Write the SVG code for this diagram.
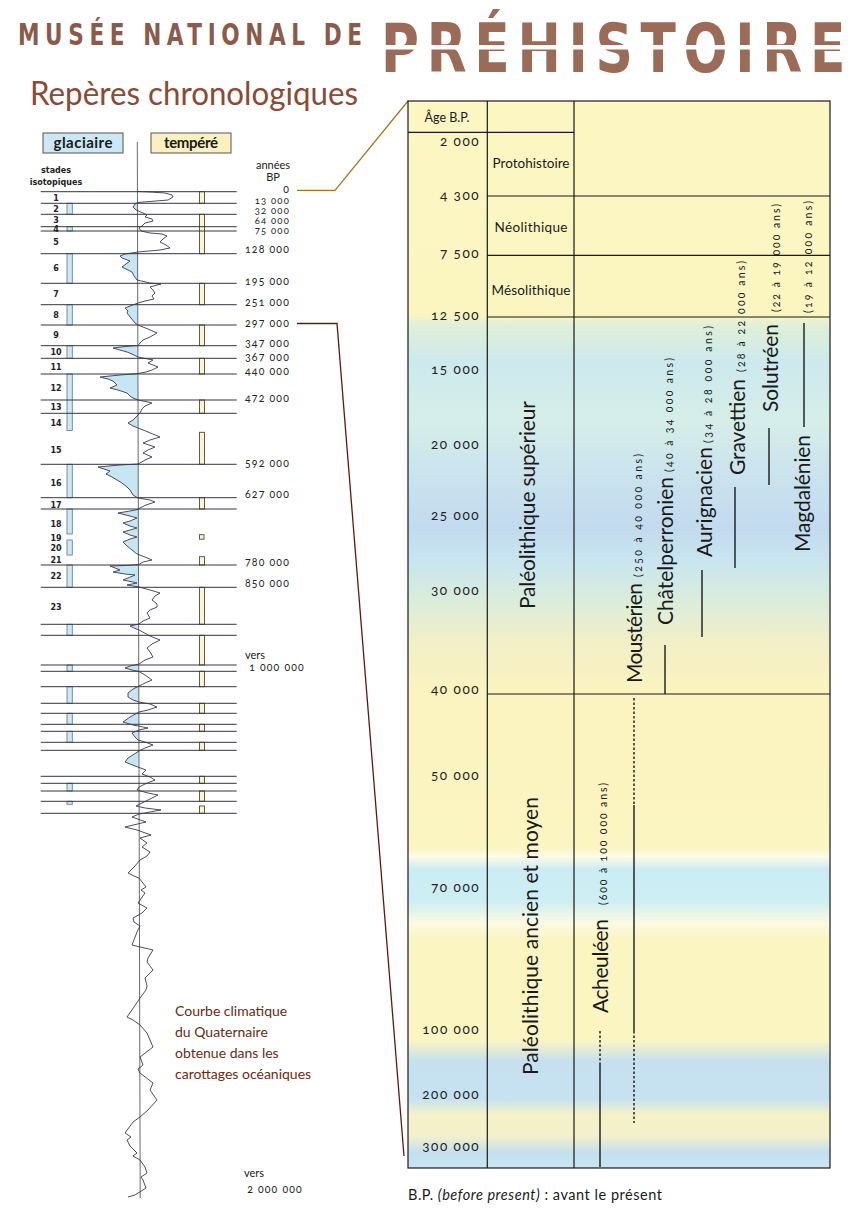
<svg xmlns="http://www.w3.org/2000/svg" width="850" height="1220" viewBox="0 0 850 1220">
<defs>
<style>
.hl{stroke:#35353f;stroke-width:1;fill:none}
.bb{fill:#cfe8f4;stroke:#5d86a0;stroke-width:0.9}
.yb{fill:#fbf4cc;stroke:#4a4a4a;stroke-width:0.9}
.st{font-family:"DejaVu Sans",sans-serif;font-weight:bold;font-size:8px;fill:#222;text-anchor:middle}
.yr{font-family:"Lato","Noto Sans",sans-serif;font-size:10.5px;fill:#222;text-anchor:end;letter-spacing:1.2px;font-variant-numeric:oldstyle-nums}
.yrs{font-size:9.5px}
.age{font-family:"Lato","Noto Sans",sans-serif;font-size:13.5px;fill:#222;text-anchor:end;letter-spacing:1.5px;font-variant-numeric:oldstyle-nums}
.per{font-family:"Lato","Open Sans",sans-serif;font-size:13.5px;fill:#1a1a1a;text-anchor:middle}
.vbig{font-family:"Lato","Open Sans",sans-serif;font-size:21px;fill:#1a1a1a;text-anchor:middle}
.big{font-family:"Lato","Open Sans",sans-serif;font-size:21px;fill:#1a1a1a}
.sm{font-family:"Lato","Noto Sans",sans-serif;font-size:10.5px;fill:#1a1a1a;letter-spacing:1px;font-variant-numeric:oldstyle-nums}
.tl{stroke:#1a1a1a;stroke-width:1.4;fill:none}
.dl{stroke:#1a1a1a;stroke-width:1.4;fill:none;stroke-dasharray:2.5 2}
.grid{stroke:#1a1a1a;stroke-width:1.2;fill:none}
.note{font-family:"Lato","Open Sans",sans-serif;font-size:14px;fill:#6b2a12}
.lbl{font-family:"Lato","Open Sans",sans-serif;font-size:11px;fill:#222}
</style>
<linearGradient id="tbg" gradientUnits="userSpaceOnUse" x1="0" y1="101" x2="0" y2="1168">
<stop offset="0" stop-color="#fcf6c3"/>
<stop offset="0.2" stop-color="#fbf5c0"/>
<stop offset="0.21" stop-color="#dff0d8"/>
<stop offset="0.245" stop-color="#cde9ee"/>
<stop offset="0.30" stop-color="#d6eee8"/>
<stop offset="0.345" stop-color="#cbe4ee"/>
<stop offset="0.40" stop-color="#c2daee"/>
<stop offset="0.43" stop-color="#c8e5f0"/>
<stop offset="0.47" stop-color="#dbedda"/>
<stop offset="0.505" stop-color="#f1efc8"/>
<stop offset="0.55" stop-color="#fbf3c0"/>
<stop offset="0.70" stop-color="#fbf5c2"/>
<stop offset="0.708" stop-color="#fdfbe8"/>
<stop offset="0.72" stop-color="#cbecf4"/>
<stop offset="0.75" stop-color="#cdeef2"/>
<stop offset="0.77" stop-color="#fcfae2"/>
<stop offset="0.785" stop-color="#fbf5c2"/>
<stop offset="0.88" stop-color="#fbf5c2"/>
<stop offset="0.9" stop-color="#c6e0f0"/>
<stop offset="0.935" stop-color="#c6e2f0"/>
<stop offset="0.95" stop-color="#f6f2c8"/>
<stop offset="0.97" stop-color="#f3f1cc"/>
<stop offset="0.985" stop-color="#c4e0f0"/>
<stop offset="1" stop-color="#c9e4f2"/>
</linearGradient>
<clipPath id="cl"><polygon points="0,185 137.4,185 139.2,820 0,820"/></clipPath>
<clipPath id="cr"><polygon points="137.4,185 300,185 300,820 139.2,820"/></clipPath>
</defs>

<rect x="0" y="0" width="850" height="1220" fill="#ffffff"/>

<g id="header">
<text x="18" y="45" font-family="'DejaVu Sans Condensed','DejaVu Sans',sans-serif" font-weight="bold" font-size="30" fill="#8a5a4a" textLength="430" lengthAdjust="spacing" transform="translate(18,0) scale(0.8,1) translate(-18,0)">MUSÉE NATIONAL DE</text>
<text x="381" y="72" font-family="'DejaVu Sans Condensed','DejaVu Sans',sans-serif" font-weight="bold" font-size="67" fill="#9b6b58" textLength="540" lengthAdjust="spacing" transform="translate(381,0) scale(0.86,1) translate(-381,0)">PRÉHISTOIRE</text>
<rect x="378" y="45" width="470" height="4.5" fill="#ffffff"/>
<text x="30" y="105" font-family="Lato,'Open Sans',sans-serif" font-size="32" fill="#8a4a33" textLength="328" lengthAdjust="spacingAndGlyphs">Repères chronologiques</text>
</g>

<g id="legend">
<g id="glaciaire"><rect x="43" y="133" width="80" height="20" fill="#cde8f5" stroke="#555" stroke-width="1"/>
<text x="83" y="148" font-family="Lato,'Open Sans',sans-serif" font-weight="bold" font-size="15" fill="#1a1a1a" text-anchor="middle" textLength="59">glaciaire</text></g>
<g id="tempere"><rect x="151" y="133" width="80" height="20" fill="#fbf0bf" stroke="#555" stroke-width="1"/>
<text x="191" y="148" font-family="Lato,'Open Sans',sans-serif" font-weight="bold" font-size="15" fill="#1a1a1a" text-anchor="middle" textLength="54">tempéré</text></g>
<text x="56" y="173" class="st" font-size="9">stades</text>
<text x="56" y="185" class="st" font-size="9">isotopiques</text>
<text x="273" y="169" class="lbl" text-anchor="middle">années</text>
<text x="273" y="181" class="lbl" text-anchor="middle">BP</text>
</g>

<g id="bars">
<rect class="bb" x="67" y="203.3" width="5.3" height="11"/>
<rect class="bb" x="67" y="226.7" width="5.3" height="4.3"/>
<rect class="bb" x="67" y="253.7" width="5.3" height="29.6"/>
<rect class="bb" x="67" y="304.7" width="5.3" height="20.3"/>
<rect class="bb" x="67" y="345.7" width="5.3" height="12.6"/>
<rect class="bb" x="67" y="374" width="5.3" height="56.5"/>
<rect class="bb" x="67" y="464.3" width="5.3" height="33.4"/>
<rect class="bb" x="67" y="509" width="5.3" height="25"/>
<rect class="bb" x="67" y="540" width="5.3" height="15"/>
<rect class="bb" x="67" y="565" width="5.3" height="22.3"/>
<rect class="bb" x="67" y="624.3" width="5.3" height="11"/>
<rect class="bb" x="67" y="665" width="5.3" height="6.3"/>
<rect class="bb" x="67" y="686.7" width="5.3" height="16.6"/>
<rect class="bb" x="67" y="713.3" width="5.3" height="11"/>
<rect class="bb" x="67" y="731.3" width="5.3" height="11"/>
<rect class="bb" x="67" y="783.3" width="5.3" height="7.7"/>
<rect class="bb" x="67" y="801.3" width="5.3" height="3"/>
<rect class="yb" x="199.5" y="191.7" width="5" height="11.6"/>
<rect class="yb" x="199.5" y="214.3" width="5" height="39.4"/>
<rect class="yb" x="199.5" y="283.3" width="5" height="21.4"/>
<rect class="yb" x="199.5" y="325" width="5" height="20.7"/>
<rect class="yb" x="199.5" y="358.3" width="5" height="15.7"/>
<rect class="yb" x="199.5" y="400" width="5" height="13.3"/>
<rect class="yb" x="199.5" y="432.3" width="5" height="32"/>
<rect class="yb" x="199.5" y="497.7" width="5" height="11.3"/>
<rect class="yb" x="199.5" y="534.7" width="4.5" height="4.5"/>
<rect class="yb" x="199.5" y="556.7" width="5" height="8.3"/>
<rect class="yb" x="199.5" y="587.3" width="5" height="37"/>
<rect class="yb" x="199.5" y="635.3" width="5" height="29.7"/>
<rect class="yb" x="199.5" y="671.3" width="5" height="15.4"/>
<rect class="yb" x="199.5" y="703.3" width="5" height="10"/>
<rect class="yb" x="199.5" y="724.3" width="5" height="7"/>
<rect class="yb" x="199.5" y="742.3" width="5" height="8"/>
<rect class="yb" x="199.5" y="776.3" width="5" height="7"/>
<rect class="yb" x="199.5" y="791" width="5" height="10.3"/>
<rect class="yb" x="199.5" y="806" width="5" height="7.3"/>
</g>

<g id="climate-curve">
<g stroke="none">
<polygon id="curvefill-l" clip-path="url(#cl)" fill="#c6e6f4" points="137.4,191.5 150,192 165,193 172,195 173,197 168,200 150,201.5 138,202.5 135,204 133,207 136,210 143,213 147,215 145,217 152,219 153,221 145,223 142,226 139,228 141,231 150,233 162,234 167,236 163,239 160,242 166,245 170,248 160,250 138,252 125,254 120,256 122,258 130,261 126,264 122,267 128,270 132,272 134,276 137,280 150,283 161,284 157,285 150,287 153,290 155,293 152,296 154,299 145,301 138,303 130,306 125,308 128,311 127,313 131,318 135,323 138,325 148,329 157,333 150,337 143,340 140,343 138,345.5 125,346.5 113,348 120,350 127,352 132,354 138,357 148,359 153,360 148,363 158,367 152,370 146,372 138,373.5 120,375 100,377 108,379 113,381 117,385 110,388 118,390 127,393 130,396 133,398 138,400 148,402 152,403 145,406 142,409 140,413 137,416 133,420 128,423 133,426 138,428 148,432 160,437 150,440 143,443 155,447 148,450 143,453 152,457 145,460 140,463 138,464 120,465 98,467 104,469 110,471 106,474 112,477 117,480 122,483 127,487 130,490 133,495 138,498 150,500 155,502 146,505 140,508 138,509.5 130,511 118,513 130,516 137,518 130,521 123,523 130,526 137,528 130,530 123,532 130,535 137,537 130,539 123,542 127,546 132,550 137,554 145,557 152,560 143,562 139,564.5 125,565.5 110,566 115,568 120,570 113,572 125,574 135,575 128,578 123,580 133,582 137,583 127,585 139,587 150,590 160,593 155,596 152,600 157,604 157,607 150,610 147,613 150,618 143,621 139,624 130,626 134,628 139,630 150,636 160,640 152,644 147,648 150,652 153,657 145,660 139,664 130,666 125,668 132,670 139,671.5 145,675 152,680 145,683 139,686 133,689 128,693 128,697 133,700 139,702 150,704 157,707 148,710 139,712 130,717 123,722 133,725 148,728 139,730 132,733 135,737 138,740 145,742 153,745 145,748 139,751 128,758 125,762 135,766 146,770 142,774 150,777 155,780 145,784 139,787 137,790 148,793 158,795 150,799 142,803 136,806 145,808 161,810 150,812 139.2,814"/>
<use href="#curvefill-l" clip-path="url(#cr)" fill="#fbf1bd"/>
</g>
<line x1="137.3" y1="142" x2="140.2" y2="1198" stroke="#6a6a6a" stroke-width="1"/>
</g>

<g id="stage-lines">
<path class="hl" d="M40.7 191.7H236.7M40.7 203.3H236.7M40.7 214.3H236.7M40.7 226.7H236.7M40.7 231H236.7M40.7 253.7H236.7M40.7 283.3H236.7M40.7 304.7H236.7M40.7 325H236.7M40.7 345.7H236.7M40.7 358.3H236.7M40.7 374H236.7M40.7 400H236.7M40.7 413.3H236.7M40.7 464.3H236.7M40.7 497.7H236.7M40.7 509H236.7M40.7 565H236.7M40.7 587.3H236.7M40.7 624.3H236.7M40.7 635.3H236.7M40.7 665H236.7M40.7 671.3H236.7M40.7 686.7H236.7M40.7 703.3H236.7M40.7 713.3H236.7M40.7 724.3H236.7M40.7 731.3H236.7M40.7 742.3H236.7M40.7 750.3H236.7M40.7 776.3H236.7M40.7 783.3H236.7M40.7 791H236.7M40.7 801.3H236.7M40.7 813.3H236.7"/>
</g>

<g id="curve-line">
<polyline fill="none" stroke="#3a3a48" stroke-width="0.9" stroke-linejoin="round" points="137.4,191.5 150,192 165,193 172,195 173,197 168,200 150,201.5 138,202.5 135,204 133,207 136,210 143,213 147,215 145,217 152,219 153,221 145,223 142,226 139,228 141,231 150,233 162,234 167,236 163,239 160,242 166,245 170,248 160,250 138,252 125,254 120,256 122,258 130,261 126,264 122,267 128,270 132,272 134,276 137,280 150,283 161,284 157,285 150,287 153,290 155,293 152,296 154,299 145,301 138,303 130,306 125,308 128,311 127,313 131,318 135,323 138,325 148,329 157,333 150,337 143,340 140,343 138,345.5 125,346.5 113,348 120,350 127,352 132,354 138,357 148,359 153,360 148,363 158,367 152,370 146,372 138,373.5 120,375 100,377 108,379 113,381 117,385 110,388 118,390 127,393 130,396 133,398 138,400 148,402 152,403 145,406 142,409 140,413 137,416 133,420 128,423 133,426 138,428 148,432 160,437 150,440 143,443 155,447 148,450 143,453 152,457 145,460 140,463 138,464 120,465 98,467 104,469 110,471 106,474 112,477 117,480 122,483 127,487 130,490 133,495 138,498 150,500 155,502 146,505 140,508 138,509.5 130,511 118,513 130,516 137,518 130,521 123,523 130,526 137,528 130,530 123,532 130,535 137,537 130,539 123,542 127,546 132,550 137,554 145,557 152,560 143,562 139,564.5 125,565.5 110,566 115,568 120,570 113,572 125,574 135,575 128,578 123,580 133,582 137,583 127,585 139,587 150,590 160,593 155,596 152,600 157,604 157,607 150,610 147,613 150,618 143,621 139,624 130,626 134,628 139,630 150,636 160,640 152,644 147,648 150,652 153,657 145,660 139,664 130,666 125,668 132,670 139,671.5 145,675 152,680 145,683 139,686 133,689 128,693 128,697 133,700 139,702 150,704 157,707 148,710 139,712 130,717 123,722 133,725 148,728 139,730 132,733 135,737 138,740 145,742 153,745 145,748 139,751 128,758 125,762 135,766 146,770 142,774 150,777 155,780 145,784 139,787 137,790 148,793 158,795 150,799 142,803 136,806 145,808 161,810 150,812 139.2,814 132,817 146,822 125,827 137,830 151,835 140,838 147,843 142,847 150,852 147,856 140,860 135,866 128,873 134,876 139,878 146,887 141,890 145,893 138,903 147,908 142,913 133,918 134,922 140,926 137,932 132,945 153,950 148,958 147,962 153,970 145,978 147,986 146,990 140,998 134,1007 127,1017 133,1020 140,1025 147,1033 150,1040 153,1047 140,1057 143,1065 138,1069 140,1073 153,1083 150,1090 157,1100 148,1110 140,1117 133,1122 125,1133 131,1137 127,1140 130,1146 137,1153 133,1156 140,1160 145,1167 147,1173 141,1177 143,1180 146,1188 135,1195 128,1197"/>
</g>

<g id="stages">
<text class="st" x="56" y="200.5">1</text>
<text class="st" x="56" y="212">2</text>
<text class="st" x="56" y="223">3</text>
<text class="st" x="56" y="231.5">4</text>
<text class="st" x="56" y="245">5</text>
<text class="st" x="56" y="271">6</text>
<text class="st" x="56" y="297">7</text>
<text class="st" x="56" y="317.5">8</text>
<text class="st" x="56" y="337.5">9</text>
<text class="st" x="56" y="355">10</text>
<text class="st" x="56" y="369.5">11</text>
<text class="st" x="56" y="390.5">12</text>
<text class="st" x="56" y="410">13</text>
<text class="st" x="56" y="426">14</text>
<text class="st" x="56" y="453">15</text>
<text class="st" x="56" y="485.5">16</text>
<text class="st" x="56" y="507.5">17</text>
<text class="st" x="56" y="526.5">18</text>
<text class="st" x="56" y="540.5">19</text>
<text class="st" x="56" y="550.5">20</text>
<text class="st" x="56" y="563">21</text>
<text class="st" x="56" y="578.5">22</text>
<text class="st" x="56" y="609.5">23</text>
</g>

<g id="years">
<text class="yr" x="290" y="193">0</text>
<text class="yr yrs" x="290" y="204">13 000</text>
<text class="yr yrs" x="290" y="214">32 000</text>
<text class="yr yrs" x="290" y="224">64 000</text>
<text class="yr yrs" x="290" y="234">75 000</text>
<text class="yr" x="290" y="253">128 000</text>
<text class="yr" x="290" y="285">195 000</text>
<text class="yr" x="290" y="306">251 000</text>
<text class="yr" x="290" y="327">297 000</text>
<text class="yr" x="290" y="347">347 000</text>
<text class="yr" x="290" y="361">367 000</text>
<text class="yr" x="290" y="375">440 000</text>
<text class="yr" x="290" y="402">472 000</text>
<text class="yr" x="290" y="467">592 000</text>
<text class="yr" x="290" y="498">627 000</text>
<text class="yr" x="290" y="566">780 000</text>
<text class="yr" x="290" y="587">850 000</text>
<text class="lbl" x="245" y="659">vers</text>
<text class="yr" x="305" y="671">1 000 000</text>
<text class="lbl" x="244" y="1177">vers</text>
<text class="yr" x="303" y="1193">2 000 000</text>
</g>

<g id="connectors">
<polyline points="297,190.3 335,190.3 408,101" fill="none" stroke="#a07a18" stroke-width="1.3"/>
<polyline points="297,323.5 337,323.5 404,1156" fill="none" stroke="#5a1a10" stroke-width="1.3"/>
</g>

<g id="table">
<rect x="408" y="101" width="422" height="1067" fill="url(#tbg)"/>
<g class="grid">
<rect x="408" y="101" width="422" height="1067"/>
<path d="M487.3 101V1168M574 101V1168M408 132.3H574M487.3 196H830M487.3 255.3H830M487.3 317H830M487.3 694H830"/>
</g>
<g id="ages">
<text x="447" y="122" font-family="Lato,'Open Sans',sans-serif" font-size="12.5" fill="#1a1a1a" text-anchor="middle">Âge B.P.</text>
<text class="age" x="480" y="146">2 000</text>
<text class="age" x="480" y="200">4 300</text>
<text class="age" x="480" y="258">7 500</text>
<text class="age" x="480" y="320">12 500</text>
<text class="age" x="480" y="374">15 000</text>
<text class="age" x="480" y="449">20 000</text>
<text class="age" x="480" y="520">25 000</text>
<text class="age" x="480" y="595">30 000</text>
<text class="age" x="480" y="694">40 000</text>
<text class="age" x="480" y="780">50 000</text>
<text class="age" x="480" y="892">70 000</text>
<text class="age" x="480" y="1034">100 000</text>
<text class="age" x="480" y="1099">200 000</text>
<text class="age" x="480" y="1151">300 000</text>
</g>
<g id="periods">
<text class="per" x="531" y="168" textLength="77">Protohistoire</text>
<text class="per" x="531" y="232" textLength="73">Néolithique</text>
<text class="per" x="531" y="295" textLength="79">Mésolithique</text>
<text class="vbig" transform="translate(535,505) rotate(-90)" textLength="208">Paléolithique supérieur</text>
<text class="vbig" transform="translate(538,936) rotate(-90)" textLength="278">Paléolithique ancien et moyen</text>
</g>
<g id="cultures">
<g id="mousterien">
<text class="big" transform="translate(642,683) rotate(-90)" textLength="100">Moustérien</text>
<text class="sm" transform="translate(642,577) rotate(-90)" textLength="124">(250 à 40 000 ans)</text>
<path class="dl" d="M634 698V805"/><path class="tl" d="M634 805V1031"/><path class="dl" d="M634 1031V1123"/>
</g>
<g id="chatelperronien">
<text class="big" transform="translate(673,625) rotate(-90)" textLength="148">Châtelperronien</text>
<text class="sm" transform="translate(673,472) rotate(-90)" textLength="115">(40 à 34 000 ans)</text>
<path class="tl" d="M665 645V694"/>
</g>
<g id="aurignacien">
<text class="big" transform="translate(712,557) rotate(-90)" textLength="110">Aurignacien</text>
<text class="sm" transform="translate(712,443) rotate(-90)" textLength="118">(34 à 28 000 ans)</text>
<path class="tl" d="M702 570V637"/>
</g>
<g id="gravettien">
<text class="big" transform="translate(745,475) rotate(-90)" textLength="96">Gravettien</text>
<text class="sm" transform="translate(745,372) rotate(-90)" textLength="112">(28 à 22 000 ans)</text>
<path class="tl" d="M735 487V568"/>
</g>
<g id="solutreen">
<text class="big" transform="translate(778,412) rotate(-90)" textLength="88">Solutréen</text>
<text class="sm" transform="translate(780,312) rotate(-90)" textLength="109">(22 à 19 000 ans)</text>
<path class="tl" d="M769 428V485"/>
</g>
<g id="magdalenien">
<text class="big" transform="translate(810,552) rotate(-90)" textLength="117">Magdalénien</text>
<text class="sm" transform="translate(812,313) rotate(-90)" textLength="113">(19 à 12 000 ans)</text>
<path class="tl" d="M804 323V427"/>
</g>
<g id="acheuleen">
<text class="big" transform="translate(608,1013) rotate(-90)" textLength="94">Acheuléen</text>
<text class="sm" transform="translate(607,905) rotate(-90)" textLength="123">(600 à 100 000 ans)</text>
<path class="dl" d="M600 1031V1065"/><path class="tl" d="M600 1065V1167"/>
</g>
</g>
</g>

<g id="notes">
<text class="note" x="175" y="1016">Courbe climatique</text>
<text class="note" x="175" y="1037">du Quaternaire</text>
<text class="note" x="175" y="1058">obtenue dans les</text>
<text class="note" x="175" y="1079">carottages océaniques</text>
<text x="408" y="1200" font-family="Lato,'Open Sans',sans-serif" font-size="14.5" fill="#1a1a1a" textLength="254">B.P. <tspan font-style="italic">(before present)</tspan> : avant le présent</text>
</g>
</svg>
